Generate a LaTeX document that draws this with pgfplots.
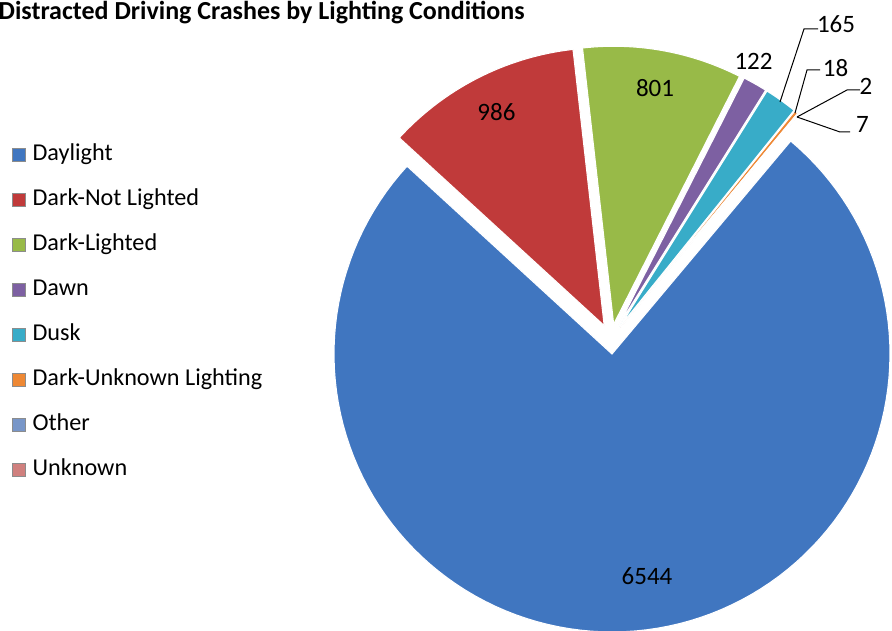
\documentclass[border=0pt]{standalone}
\usepackage{fontspec}
\setmainfont{Carlito}
\usepackage{pgfplots}
\usepackage{pgfplotstable}
\pgfplotsset{compat=1.18}

% slice colours: Daylight, Dark-Not Lighted, Dark-Lighted, Dawn, Dusk,
% Dark-Unknown Lighting, Other, Unknown
\definecolor{pc0}{RGB}{64,118,192}
\definecolor{pc1}{RGB}{192,58,58}
\definecolor{pc2}{RGB}{152,186,72}
\definecolor{pc3}{RGB}{125,96,162}
\definecolor{pc4}{RGB}{56,172,200}
\definecolor{pc5}{RGB}{238,136,52}
\definecolor{pc6}{RGB}{120,150,200}
\definecolor{pc7}{RGB}{208,128,126}

% crashes by lighting condition
\pgfplotstableread{
idx value
0 6544
1 986
2 801
3 122
4 165
5 18
6 2
7 7
}\crashdata

% pie geometry (pixel units): centre, radius, explosion, first slice angle
\def\pcx{611}\def\pcy{339}\def\prad{278}\def\pexp{15}\def\pstart{40}

\xdef\tot{0}
\pgfplotstableforeachcolumnelement{value}\of\crashdata\as\v{%
  \pgfmathparse{\tot+\v}\xdef\tot{\pgfmathresult}}
\xdef\cum{\pstart}
\pgfplotstableforeachcolumnelement{value}\of\crashdata\as\v{%
  \pgfmathparse{\cum+360*(\v/\tot)}\xdef\nxt{\pgfmathresult}%
  \pgfmathparse{(\cum+\nxt)/2}\xdef\midang{\pgfmathresult}%
  \expandafter\xdef\csname sA\pgfplotstablerow\endcsname{\cum}%
  \expandafter\xdef\csname sB\pgfplotstablerow\endcsname{\nxt}%
  \pgfmathparse{\pcx+\pexp*sin(\midang)}%
  \expandafter\xdef\csname ox\pgfplotstablerow\endcsname{\pgfmathresult}%
  \pgfmathparse{\pcy-\pexp*cos(\midang)}%
  \expandafter\xdef\csname oy\pgfplotstablerow\endcsname{\pgfmathresult}%
  \xdef\cum{\nxt}}

\newcommand\legsq[1]{\addlegendimage{legend image code/.code={%
    \fill[#1] (0pt,-6.5pt) rectangle (13pt,6.5pt);
    \draw[black!45,line width=0.6pt] (0.3pt,-6.2pt) rectangle (12.7pt,6.2pt);}}}

\begin{document}
\begin{tikzpicture}
\path[use as bounding box] (0,0) rectangle (892pt,631pt);
\begin{axis}[
  at={(0,0)}, anchor=south west,
  width=892pt, height=631pt, scale only axis,
  xmin=0, xmax=892, ymin=0, ymax=631, y dir=reverse,
  hide axis, clip=false,
  legend cell align=left,
  legend style={at={(axis cs:12,144)}, anchor=north west, draw=none, fill=none,
    inner sep=0pt, row sep=24pt,
    font=\fontsize{24.2}{29}\selectfont,
    /tikz/every odd column/.style={column sep=4pt},
    nodes={inner xsep=3pt, inner ysep=0pt, text height=16pt, text depth=5pt}},
]
\pgfplotsinvokeforeach{0,...,7}{
  \addplot[forget plot, fill=pc#1, draw=white, line width=1.1pt, samples=120,
    domain=\csname sA#1\endcsname:\csname sB#1\endcsname]
    ({\csname ox#1\endcsname+\prad*sin(x)},{\csname oy#1\endcsname-\prad*cos(x)})
    -- (axis cs:\csname ox#1\endcsname,\csname oy#1\endcsname) -- cycle;
}
\legsq{pc0}\addlegendentry{Daylight}
\legsq{pc1}\addlegendentry{Dark-Not Lighted}
\legsq{pc2}\addlegendentry{Dark-Lighted}
\legsq{pc3}\addlegendentry{Dawn}
\legsq{pc4}\addlegendentry{Dusk}
\legsq{pc5}\addlegendentry{Dark-Unknown Lighting}
\legsq{pc6}\addlegendentry{Other}
\legsq{pc7}\addlegendentry{Unknown}
% leader lines
\addplot[black, line width=1pt, forget plot] coordinates {(818,29) (804,29) (780,102)};
\addplot[black, line width=1pt, forget plot] coordinates {(820,70) (807,70) (795,113)};
\addplot[black, line width=1pt, forget plot] coordinates {(860,90) (847,90) (797,117)};
\addplot[black, line width=1pt, forget plot] coordinates {(797,117) (840,132) (850,132)};

\begin{scope}[every node/.style={inner sep=0pt, font=\fontsize{25}{30}\selectfont}]
\node at (axis cs:647,576) {6544};
\node at (axis cs:496.5,112) {986};
\node at (axis cs:655,88) {801};
\node at (axis cs:753.5,61) {122};
\node at (axis cs:836,24) {165};
\node at (axis cs:835.5,68) {18};
\node at (axis cs:866,86.5) {2};
\node at (axis cs:862.5,124.5) {7};
\end{scope}
\node[anchor=base west, inner sep=0pt, font=\bfseries\fontsize{26}{30}\selectfont]
  at (axis cs:-1.5,20) {Distracted Driving Crashes by Lighting Conditions};
\end{axis}
\end{tikzpicture}
\end{document}
